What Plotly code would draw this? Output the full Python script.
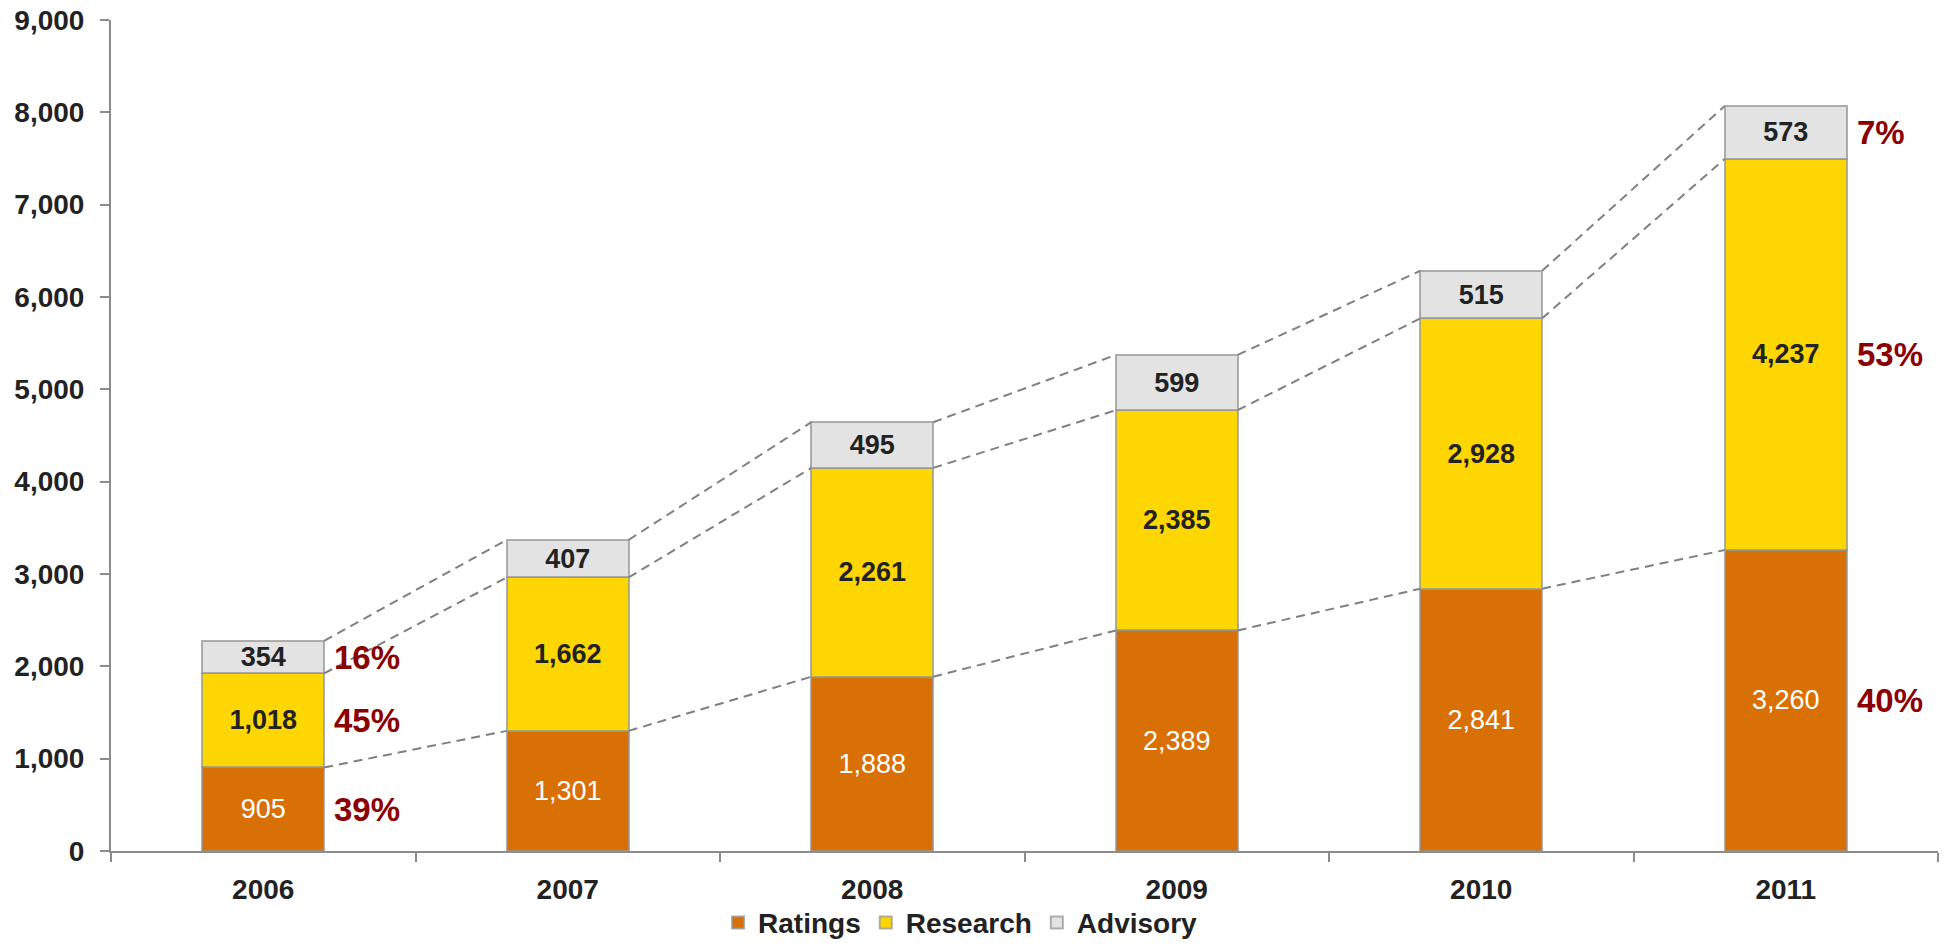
import plotly.graph_objects as go

years = ["2006", "2007", "2008", "2009", "2010", "2011"]
ratings = [905, 1301, 1888, 2389, 2841, 3260]
research = [1018, 1662, 2261, 2385, 2928, 4237]
advisory = [354, 407, 495, 599, 515, 573]
pct_2006 = ["39%", "45%", "16%"]
pct_2011 = ["40%", "53%", "7%"]

FONT = "Liberation Sans, Arial, sans-serif"
BAR_W = 0.4
line_col = "rgba(150,150,150,0.75)"
DARK = "#222222"

fig = go.Figure()
series = [
    ("Ratings", ratings, "#D97006", "white", "normal"),
    ("Research", research, "#FED703", DARK, "bold"),
    ("Advisory", advisory, "#E3E3E3", DARK, "bold"),
]
for name, vals, col, tcol, wt in series:
    fig.add_trace(go.Bar(
        name=name, x=years, y=vals,
        marker=dict(color=col, line=dict(color=line_col, width=2)),
        text=[f"{v:,}" for v in vals], texttemplate="%{text}",
        textposition="inside", insidetextanchor="middle",
        textfont=dict(family=FONT, size=27, color=tcol, weight=wt),
        width=BAR_W,
    ))

# series (connector) lines
cum1 = ratings
cum2 = [a + b for a, b in zip(ratings, research)]
cum3 = [a + b + c for a, b, c in zip(ratings, research, advisory)]
for cum in (cum1, cum2, cum3):
    xs, ys = [], []
    for i in range(len(years) - 1):
        xs += [i + BAR_W / 2, i + 1 - BAR_W / 2, None]
        ys += [cum[i], cum[i + 1], None]
    fig.add_trace(go.Scatter(
        x=xs, y=ys, xaxis="x2", yaxis="y", mode="lines",
        line=dict(color="#808080", width=2, dash="9px,6px"),
        showlegend=False, hoverinfo="skip",
    ))

# percentage annotations
def centers(i):
    return [ratings[i] / 2, ratings[i] + research[i] / 2,
            ratings[i] + research[i] + advisory[i] / 2]

for idx, labels in ((0, pct_2006), (len(years) - 1, pct_2011)):
    for yv, lab in zip(centers(idx), labels):
        fig.add_annotation(
            x=idx + BAR_W / 2, y=yv, xref="x2", yref="y",
            text=f"<b>{lab}</b>", showarrow=False, xanchor="left",
            xshift=8, font=dict(family=FONT, size=33, color="#8B0000"),
        )

axis_col = "#8c8c8c"
fig.update_layout(
    width=1949, height=947,
    margin=dict(l=111, r=11, t=20, b=96, autoexpand=False),
    paper_bgcolor="white", plot_bgcolor="white",
    barmode="stack", bargap=0.6,
    uniformtext=dict(minsize=27, mode="show"),
    font=dict(family=FONT, size=28, color=DARK),
    xaxis=dict(
        type="category", showline=True, linecolor=axis_col, linewidth=2,
        ticks="outside", ticklen=9, tickcolor=axis_col, tickwidth=2,
        tickson="boundaries", showgrid=False, zeroline=False,
        tickfont=dict(family=FONT, size=28, color=DARK, weight="bold"),
        range=[-0.5, 5.5], ticklabelstandoff=12, automargin=False,
    ),
    xaxis2=dict(overlaying="x", range=[-0.5, 5.5], visible=False),
    yaxis=dict(
        range=[0, 9000], tickvals=list(range(0, 9001, 1000)), tickformat=",",
        showline=True, linecolor=axis_col, linewidth=2,
        ticks="outside", ticklen=9, tickcolor=axis_col, tickwidth=2,
        showgrid=False, zeroline=False,
        tickfont=dict(family=FONT, size=28, color=DARK, weight="bold"),
        ticklabelstandoff=10, automargin=False,
    ),
    legend=dict(
        orientation="h", x=0.465, xanchor="center",
        yref="container", y=0.052, yanchor="top",
        bgcolor="rgba(0,0,0,0)",
        font=dict(family=FONT, size=28, color=DARK, weight="bold"),
        traceorder="normal", itemwidth=30,
    ),
)

fig.write_html("out.html")
